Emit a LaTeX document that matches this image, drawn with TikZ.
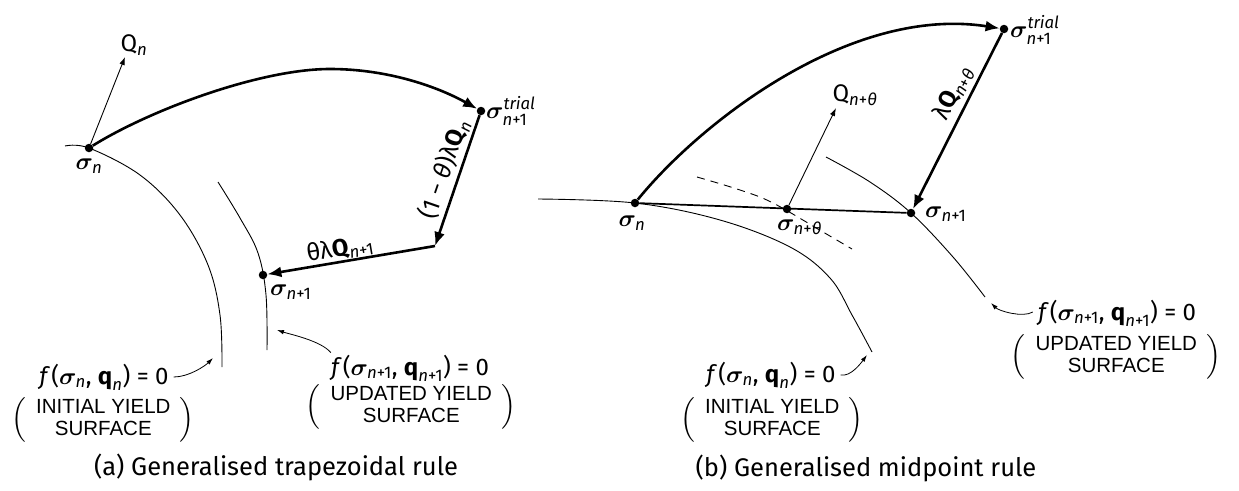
\RequirePackage{fix-cm}
\documentclass[tikz,border=0pt]{standalone}
\usepackage{amsmath,bm}
\usepackage{fontspec}
\setmainfont{Fira Sans}
\newfontfamily\helv{Liberation Sans}
\usetikzlibrary{arrows.meta}
\newcommand{\bsig}{\bm{\sigma}}
\newcommand{\ii}[1]{\textit{#1}}
\newcommand{\surf}[2]{$\left(\vcenter{\hbox{\,\helv\fontsize{20.5}{22}\selectfont\begin{tabular}{c}#1\\#2\end{tabular}\,}}\right)$}
\begin{document}
\begin{tikzpicture}[x=1pt,y=-1pt,
  dot/.style={circle,fill=black,inner sep=0pt,minimum size=8.5pt},
  lab/.style={font=\fontsize{24}{22}\selectfont,inner sep=0pt},
  captxt/.style={font=\fontsize{25.5}{27}\selectfont,inner sep=0pt},
  curve/.style={line width=0.9pt},
  thickarr/.style={line width=2.6pt,-{Latex[length=14pt,width=11pt]}},
  thinarr/.style={line width=0.9pt,-{Latex[length=8pt,width=5.5pt]}},
  hookarr/.style={line width=0.8pt,-{Latex[length=7pt,width=4.5pt]}},
  midline/.style={line width=1.7pt}]
\useasboundingbox (0,0) rectangle (1239,490);

% ================= (a) =================
\draw[curve] plot[smooth,tension=0.6] coordinates {(65,146) (89,148) (140,175) (180,215) (208,265) (220,315) (222,367)};
\draw[curve] plot[smooth,tension=0.6] coordinates {(218,182) (240,218) (258,253) (266,295) (267,350)};

\node[dot] (Lsn) at (89,148) {};
\node[dot] (Ltr) at (481,111) {};
\coordinate (Lc) at (435,246);
\node[dot] (Ls1) at (263,275) {};
\coordinate (LQ) at (125,57);

\draw[thinarr] (Lsn) -- (LQ);
\draw[thickarr] (Lsn) .. controls (150,110) and (260,69) .. (330,69) .. controls (390,69) and (440,88) .. (Ltr);
\draw[thickarr] (Ltr) -- (Lc);
\draw[thickarr] (Lc) -- (Ls1);

\node[lab] (LQl) at (134,45) {$\text{Q}_{\ii{n}}$};
\node[lab] (Lsnl) at (89,166) {$\bsig_{\ii{n}}$};
\node[lab,anchor=west] (Ltrl) at (486,111) {$\bsig^{\ii{trial}}_{\ii{n}\text{+1}}$};
\node[lab,rotate=71] (Lm1) at (444,169) {$\text{(1 − \ii{θ})λ\textbf{Q}}_{\ii{n}}$};
\node[lab,rotate=9.8] (Lm2) at (340,249) {$\text{θλ\textbf{Q}}_{\ii{n}\text{+1}}$};
\node[lab,anchor=west] (Ls1l) at (270,292) {$\bsig_{\ii{n}\text{+1}}$};

\node[lab] (Lf0) at (104,377) {$\ii{f}\,\text{(}\bsig_{\ii{n}}\text{, }\textbf{q}_{\ii{n}}\text{) = 0}$};
\node[lab] (Ls0) at (103,420) {\surf{INITIAL YIELD}{SURFACE}};
\node[lab] (Lf1) at (410,368) {$\ii{f}\,\text{(}\bsig_{\ii{n}\text{+1}}\text{, }\textbf{q}_{\ii{n}\text{+1}}\text{) = 0}$};
\node[lab] (Ls1b) at (411,407) {\surf{UPDATED YIELD}{SURFACE}};
\coordinate (La0) at (213,358);
\coordinate (La1) at (277,330);
\draw[hookarr] (Lf0.east) ++(5,0) .. controls +(15,0) and +(-8,8) .. (La0);
\draw[hookarr] (Lf1.north west) ++(0,-2) .. controls +(-10,-12) and +(12,4) .. (La1);

\node[captxt] (capa) at (276,467) {(a) Generalised trapezoidal rule};

% ================= (b) =================
\draw[curve] plot[smooth,tension=0.6] coordinates {(538,199) (635,203) (720,220) (790,247) (830,278) (852,315) (872,352)};
\draw[curve,dashed,dash pattern=on 8pt off 6pt] plot[smooth,tension=0.6] coordinates {(697,177) (740,190) (773,203) (823,232) (852,249)};
\draw[curve] plot[smooth,tension=0.6] coordinates {(826,157) (870,182) (911,213) (953,257) (985,297)};

\node[dot] (Rsn) at (635,203) {};
\node[dot] (Rst) at (787,209) {};
\node[dot] (Rs1) at (911,213) {};
\node[dot] (Rtr) at (1004,29) {};
\coordinate (RQ) at (836,108);

\draw[midline] (Rsn) -- (Rs1);
\draw[thinarr] (Rst) -- (RQ);
\draw[thickarr] (Rsn) .. controls (700,123) and (850,5) .. (Rtr);
\draw[thickarr] (Rtr) -- (Rs1);

\node[lab] (RQl) at (855,95) {$\text{Q}_{\ii{n}\text{+}\ii{θ}}$};
\node[lab,rotate=63] (Rm1) at (953,93) {$\text{λ\textbf{Q}}_{\ii{n}\text{+}\ii{θ}}$};
\node[lab] (Rsnl) at (632,223) {$\bsig_{\ii{n}}$};
\node[lab,anchor=west] (Rstl) at (777,227) {$\bsig_{\ii{n}\text{+}\ii{θ}}$};
\node[lab,anchor=west] (Rs1l) at (925,214) {$\bsig_{\ii{n}\text{+1}}$};
\node[lab,anchor=west] (Rtrl) at (1010,30) {$\bsig^{\ii{trial}}_{\ii{n}\text{+1}}$};

\node[lab] (Rf0) at (771,375) {$\ii{f}\,\text{(}\bsig_{\ii{n}}\text{, }\textbf{q}_{\ii{n}}\text{) = 0}$};
\node[lab] (Rs0) at (772,420) {\surf{INITIAL YIELD}{SURFACE}};
\node[lab] (Rf1) at (1117,313) {$\ii{f}\,\text{(}\bsig_{\ii{n}\text{+1}}\text{, }\textbf{q}_{\ii{n}\text{+1}}\text{) = 0}$};
\node[lab] (Rs1b) at (1116,357) {\surf{UPDATED YIELD}{SURFACE}};
\coordinate (Ra0) at (867,355);
\coordinate (Ra1) at (991,303);
\draw[hookarr] (Rf0.east) ++(5,0) .. controls +(10,2) and +(-6,8) .. (Ra0);
\draw[hookarr] (Rf1.west) ++(-5,-1) .. controls +(-10,6) and +(8,8) .. (Ra1);

\node[captxt] (capb) at (866,468) {(b) Generalised midpoint rule};
\end{tikzpicture}
\end{document}
